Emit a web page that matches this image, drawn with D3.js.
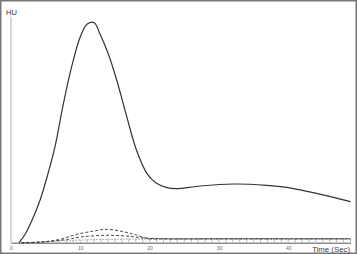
<!DOCTYPE html>
<html><head><meta charset="utf-8">
<script src="https://cdn.jsdelivr.net/npm/d3@7/dist/d3.min.js"></script>
<style>body{margin:0;background:#fff}svg{display:block}</style>
</head><body><svg id="c" width="357" height="254"></svg>
<script>
// Time (sec)
const xTicks = [0, 10, 20, 30, 40];
const yLabel = "HU";
const xLabel = "Time (Sec)";
// main enhancement curve (solid)
const mainT = [1.15, 2, 3, 4.2, 5.3, 6.35, 7.5, 8.75, 10, 11, 12, 12.8, 14, 15.25, 16.7, 18.1, 19.6, 21, 22.5, 23.9, 27.3, 32.1, 36.9, 39.8, 44.1, 49];
const mainV = [0, 8, 22, 42.7, 68, 96, 137, 176, 206, 218.7, 220, 209.4, 189.4, 162.7, 126, 92.7, 69.4, 59.4, 55, 54, 56.7, 58.7, 57.4, 55.4, 49.4, 41];
// dashed curve 1 (larger)
const dash1T = [1.5, 4, 5.5, 7.1, 9.5, 12, 13.8, 16.2, 18.1, 19.7, 22, 30, 40, 49];
const dash1V = [0, 0.5, 1.5, 3.4, 8.4, 11.7, 13.4, 11, 7.7, 4.2, 3.8, 3.8, 3.8, 3.8];
// dashed curve 2 (smaller)
const dash2T = [1.5, 4, 6, 8.2, 10.4, 13.8, 16.7, 19.2, 22, 30, 40, 49];
const dash2V = [0, 0.4, 1.5, 3.4, 6, 7.4, 6.7, 4.7, 4, 4, 4, 4];
// marked baseline curve
const markT = [1.5, 3, 5, 7, 9, 11, 13, 15, 17, 19, 21, 25, 30, 35, 40, 45, 49];
const markV = [0, 0.5, 1, 1.8, 2.4, 2.9, 3.2, 3.4, 3.5, 3.6, 3.6, 3.6, 3.6, 3.6, 3.6, 3.6, 3.6];

const svg = d3.select("#c");
const x = d3.scaleLinear().domain([0, 49]).range([11, 350.6]);
const y = d3.scaleLinear().domain([0, 226]).range([242.7, 16.7]);
const font = "Liberation Sans, Arial, sans-serif";

// frame
svg.append("rect").attr("x", 0.75).attr("y", 0.75).attr("width", 355.5).attr("height", 252.5)
  .attr("fill", "none").attr("stroke", "#777").attr("stroke-width", 1.5);

// y axis line
svg.append("line").attr("x1", x(0)).attr("x2", x(0)).attr("y1", y(226)).attr("y2", y(0))
  .attr("stroke", "#bbb").attr("stroke-width", 1.2);
svg.append("text").attr("x", 6).attr("y", 15).text(yLabel)
  .attr("font-family", font).attr("font-size", 7.5).attr("fill", "#333");

// x axis
const xAxis = d3.axisBottom(x).tickValues(xTicks).tickSize(0).tickPadding(4);
const gx = svg.append("g").attr("transform", `translate(0,${y(0)})`).call(xAxis);
gx.select(".domain").attr("stroke", "#555").attr("stroke-width", 1);
gx.selectAll("text").attr("font-family", font).attr("font-size", 5).attr("fill", "#666");
svg.append("text").attr("x", 350).attr("y", 252).attr("text-anchor", "end").text(xLabel)
  .attr("font-family", font).attr("font-size", 7.8).attr("fill", "#444");

const line = d3.line().x(d => x(d[0])).y(d => y(d[1])).curve(d3.curveCatmullRom.alpha(0.5));
const zip = (a, b) => a.map((t, i) => [t, b[i]]);

// marked baseline with vertical ticks
const markSec = d3.range(4, 50, 1);
const markInterp = d3.scaleLinear().domain(markT).range(markV);
svg.append("g").selectAll("line").data(markSec).join("line")
  .attr("x1", d => x(d)).attr("x2", d => x(d))
  .attr("y1", d => y(markInterp(d)) - 0.5).attr("y2", y(0) - 0.5)
  .attr("stroke", "#999").attr("stroke-width", 0.7);
svg.append("path").datum(zip(markT, markV)).attr("d", line)
  .attr("fill", "none").attr("stroke", "#777").attr("stroke-width", 0.7).attr("stroke-dasharray", "1.5,1.5");

svg.append("path").datum(zip(dash2T, dash2V)).attr("d", line)
  .attr("fill", "none").attr("stroke", "#333").attr("stroke-width", 0.9).attr("stroke-dasharray", "3,2");
svg.append("path").datum(zip(dash1T, dash1V)).attr("d", line)
  .attr("fill", "none").attr("stroke", "#333").attr("stroke-width", 0.9).attr("stroke-dasharray", "3,2");

svg.append("path").datum(zip(mainT, mainV)).attr("d", line)
  .attr("fill", "none").attr("stroke", "#333").attr("stroke-width", 1.2);
</script></body></html>
